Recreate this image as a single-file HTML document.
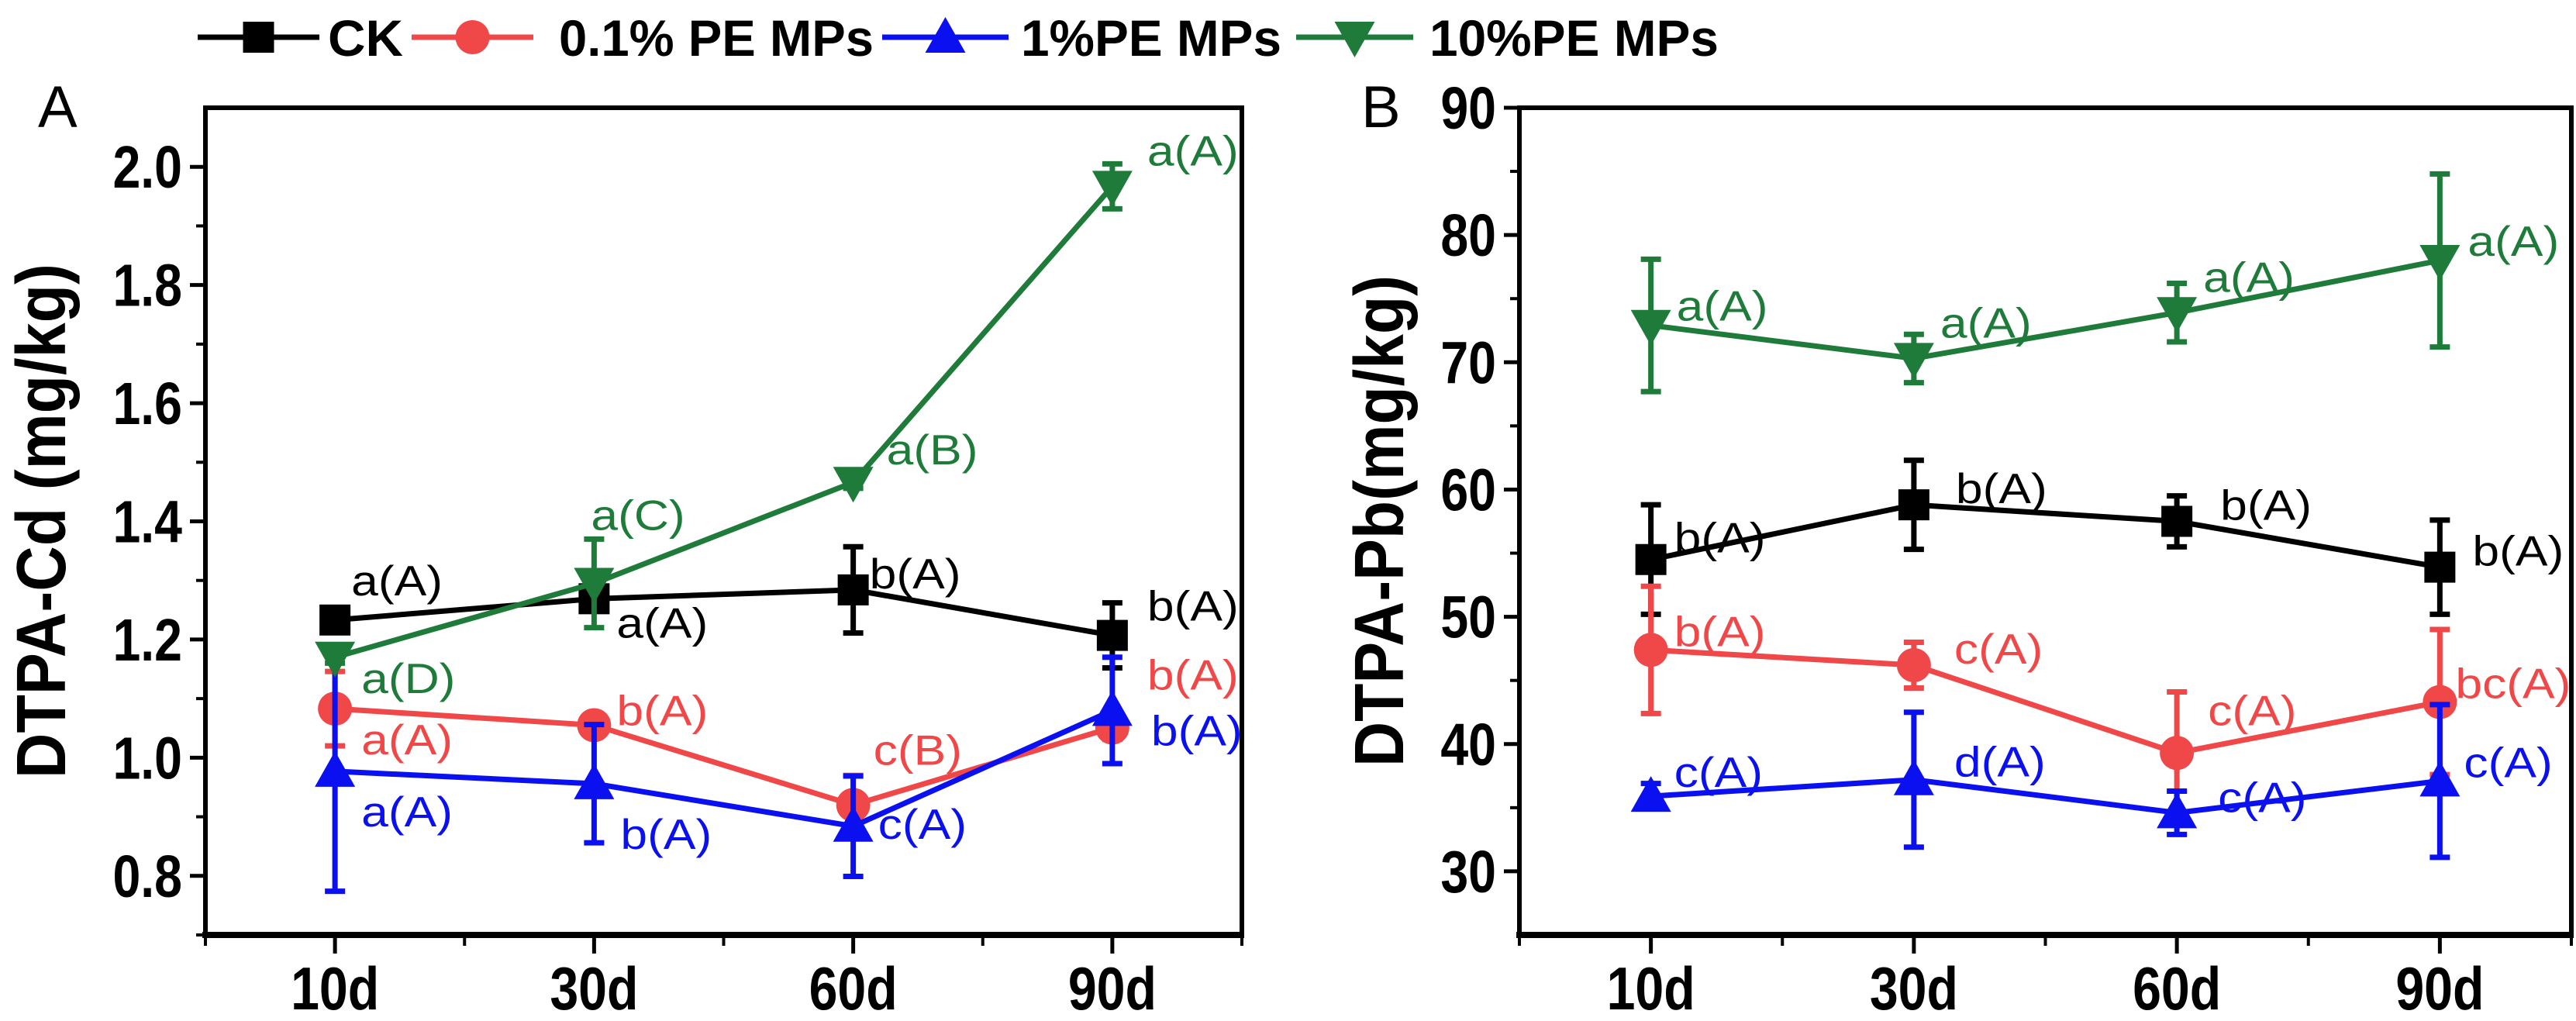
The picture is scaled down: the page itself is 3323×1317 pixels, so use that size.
<!DOCTYPE html>
<html><head><meta charset="utf-8">
<style>
html,body{margin:0;padding:0;background:#fff;}
svg{display:block;font-family:"Liberation Sans",Arial,sans-serif;}
</style></head>
<body>
<svg id="chart" width="3323" height="1317" viewBox="0 0 3323 1317" xmlns="http://www.w3.org/2000/svg">
  <g id="legend"></g>
  <g id="panelA"></g>
  <g id="panelB"></g>
</svg>
<script>
const categories = ["10d","30d","60d","90d"];
const seriesNames = ["CK","0.1% PE MPs","1%PE MPs","10%PE MPs"];
const seriesColors = ["#000000","#f04848","#0a10f0","#1e7b3a"];
const seriesMarkers = ["square","circle","triangle","invtriangle"];

const cdTicks = ["0.8","1.0","1.2","1.4","1.6","1.8","2.0"];
const cdCK = [1.233,1.269,1.284,1.207];
const cdCKerr = [0.02,0.02,0.073,0.055];
const cd01 = [1.083,1.055,0.92,1.051];
const cd01err = [0.063,0.01,0.05,0.02];
const cd1 = [0.977,0.956,0.884,1.08];
const cd1err = [0.203,0.1,0.085,0.09];
const cd10 = [1.17,1.295,1.466,1.967];
const cd10err = [0.01,0.075,0.01,0.038];
const cdLabelsCK = ["a(A)","a(A)","b(A)","b(A)"];
const cdLabels01 = ["a(A)","b(A)","c(B)","b(A)"];
const cdLabels1 = ["a(A)","b(A)","c(A)","b(A)"];
const cdLabels10 = ["a(D)","a(C)","a(B)","a(A)"];

const pbTicks = ["30","40","50","60","70","80","90"];
const pbCK = [54.5,58.8,57.5,53.9];
const pbCKerr = [4.3,3.5,2,3.7];
const pb01 = [47.4,46.2,39.3,43.3];
const pb01err = [5,1.8,4.8,5.7];
const pb1 = [35.9,37.2,34.6,37.1];
const pb1err = [1,5.3,1.7,6];
const pb10 = [72.9,70.3,73.9,78];
const pb10err = [5.2,1.9,2.3,6.8];
const pbLabelsCK = ["b(A)","b(A)","b(A)","b(A)"];
const pbLabels01 = ["b(A)","c(A)","c(A)","bc(A)"];
const pbLabels1 = ["c(A)","d(A)","c(A)","c(A)"];
const pbLabels10 = ["a(A)","a(A)","a(A)","a(A)"];

const NS = "http://www.w3.org/2000/svg";
function mk(tag, attrs, parent){
  const e = document.createElementNS(NS, tag);
  for (const k in attrs) e.setAttribute(k, attrs[k]);
  parent.appendChild(e);
  return e;
}
function marker(g, type, x, y, color, s){
  let e;
  if (type === "square") e = mk("rect",{x:x-s*0.5,y:y-s*0.5,width:s,height:s,fill:color},g);
  else if (type === "circle") e = mk("circle",{cx:x,cy:y,r:s*0.55,fill:color},g);
  else if (type === "triangle") e = mk("polygon",{points:`${x-s*0.65},${y+s*0.5} ${x+s*0.65},${y+s*0.5} ${x},${y-s*0.65}`,fill:color},g);
  else e = mk("polygon",{points:`${x-s*0.65},${y-s*0.5} ${x+s*0.65},${y-s*0.5} ${x},${y+s*0.65}`,fill:color},g);
  
  
}

function drawPanel(g, cfg){
  const L=cfg.left, R=cfg.right, T=139, B=1206;
  const xs = i => L + (i+0.5)*(R-L)/4;
  const ys = v => B - (v-cfg.ymin)/(cfg.ymax-cfg.ymin)*(B-T);
  const fr = mk("rect",{x:L,y:T,width:R-L,height:B-T,fill:"none",stroke:"#000","stroke-width":6},g);
  
  
  const xa = mk("line",{x1:L-4,y1:B,x2:R+3,y2:B,stroke:"#000","stroke-width":8},g);
  
  
  for (let i=0;i<categories.length;i++){
    const x = xs(i);
    const t = mk("line",{x1:x,y1:B,x2:x,y2:B+24,stroke:"#000","stroke-width":5},g);
    
    
    const tx = mk("text",{transform:`translate(${x},1302) scale(0.92,1.08)`,"text-anchor":"middle","font-size":72,"font-weight":"bold",fill:"#000"},g);
    tx.textContent = categories[i];
    
    
  }
  for (let i=0;i<=4;i++){
    const x = L + i*(R-L)/4;
    const t = mk("line",{x1:x,y1:B,x2:x,y2:B+14,stroke:"#000","stroke-width":4},g);
    
    
  }
  for (let i=0;i<cfg.ticks.length;i++){
    const v = parseFloat(cfg.ticks[i]);
    const y = ys(v);
    const t = mk("line",{x1:L-20,y1:y,x2:L,y2:y,stroke:"#000","stroke-width":5},g);
    
    
    const ty = mk("text",{transform:`translate(${L-30},${y+27}) scale(0.92,1.1)`,"text-anchor":"end","font-size":70,"font-weight":"bold",fill:"#000"},g);
    ty.textContent = cfg.ticks[i];
    
    
    const mv = v + cfg.minor;
    if (mv < cfg.ymax){
      const m = mk("line",{x1:L-12,y1:ys(mv),x2:L,y2:ys(mv),stroke:"#000","stroke-width":4},g);
      
      
    }
    const lv = v - cfg.minor;
    if (i===0 && lv > cfg.ymin){
      const m = mk("line",{x1:L-12,y1:ys(lv),x2:L,y2:ys(lv),stroke:"#000","stroke-width":4},g);
      
      
    }
  }
  const yt = mk("text",{x:0,y:0,transform:`translate(${cfg.titleX},672) rotate(-90)`,"text-anchor":"middle","font-size":90,"font-weight":"bold",fill:"#000",textLength:cfg.titleLen,lengthAdjust:"spacingAndGlyphs"},g);
  yt.textContent = cfg.title;
  
  
  const pl = mk("text",{x:cfg.letterX,y:164,"font-size":76,fill:"#000"},g);
  pl.textContent = cfg.letter;
  
  
  for (let s=0;s<4;s++){
    const sg = mk("g",{},g);
    
    
    const vals = cfg.vals[s], errs = cfg.errs[s], col = seriesColors[s];
    const pts = vals.map((v,i)=>xs(i)+","+ys(v)).join(" ");
    const pl2 = mk("polyline",{points:pts,fill:"none",stroke:col,"stroke-width":7},sg);
    
    
    for (let i=0;i<vals.length;i++){
      const x = xs(i), y1 = ys(vals[i]+errs[i]), y2 = ys(vals[i]-errs[i]);
      const eb = mk("path",{d:`M${x},${y1}V${y2}M${x-13},${y1}H${x+13}M${x-13},${y2}H${x+13}`,stroke:col,"stroke-width":7,fill:"none"},sg);
      
      
      marker(sg, seriesMarkers[s], x, ys(vals[i]), col, 40);
      const off = cfg.offs[s][i];
      const lb = mk("text",{transform:`translate(${x+off[0]},${ys(vals[i])+off[1]+19}) scale(1.2,1.05)`,"font-size":52,fill:col},sg);
      lb.textContent = cfg.labels[s][i];
      
      
    }
  }
}

drawPanel(document.getElementById("panelA"), {
  left:265, right:1602, ymin:0.7, ymax:2.1, minor:0.1, ticks:cdTicks,
  title:"DTPA-Cd (mg/kg)", titleX:84, titleLen:664, letter:"A", letterX:49,
  vals:[cdCK,cd01,cd1,cd10], errs:[cdCKerr,cd01err,cd1err,cd10err],
  labels:[cdLabelsCK,cdLabels01,cdLabels1,cdLabels10],
  offs:[[[21,-51],[29,31],[21,-21],[45,-38]],
        [[34,40],[29,-19],[26,-71],[45,-68]],
        [[34,52],[34,65],[32,-3],[50,26]],
        [[34,27],[-4,-88],[43,-42],[45,-46]]]
});
drawPanel(document.getElementById("panelB"), {
  left:1960, right:3317, ymin:25, ymax:90, minor:5, ticks:pbTicks,
  title:"DTPA-Pb(mg/kg)", titleX:1810, titleLen:634, letter:"B", letterX:1756,
  vals:[pbCK,pb01,pb1,pb10], errs:[pbCKerr,pb01err,pb1err,pb10err],
  labels:[pbLabelsCK,pbLabels01,pbLabels1,pbLabels10],
  offs:[[[30,-28],[54,-21],[56,-21],[42,-21]],
        [[30,-24],[52,-21],[40,-55],[20,-24]],
        [[30,-31],[52,-23],[53,-20],[31,-24]],
        [[33,-25],[34,-46],[34,-46],[36,-25]]]
});

const lg = document.getElementById("legend");
const legLines = [[255,412],[531,688],[1138,1301],[1672,1823]];
const legText = [423,721,1317,1844];
const legTextLen = [97,406,336,373];
for (let s=0;s<4;s++){
  const eg = mk("g",{},lg);
  
  
  const ln = mk("line",{x1:legLines[s][0],y1:48,x2:legLines[s][1],y2:48,stroke:seriesColors[s],"stroke-width":7},eg);
  
  
  marker(eg, seriesMarkers[s], (legLines[s][0]+legLines[s][1])/2, 48, seriesColors[s], 40);
  const t = mk("text",{x:legText[s],y:72,"font-size":66,"font-weight":"bold",fill:"#000",textLength:legTextLen[s],lengthAdjust:"spacingAndGlyphs"},eg);
  t.textContent = seriesNames[s];
  
  
}
</script>
</body></html>
